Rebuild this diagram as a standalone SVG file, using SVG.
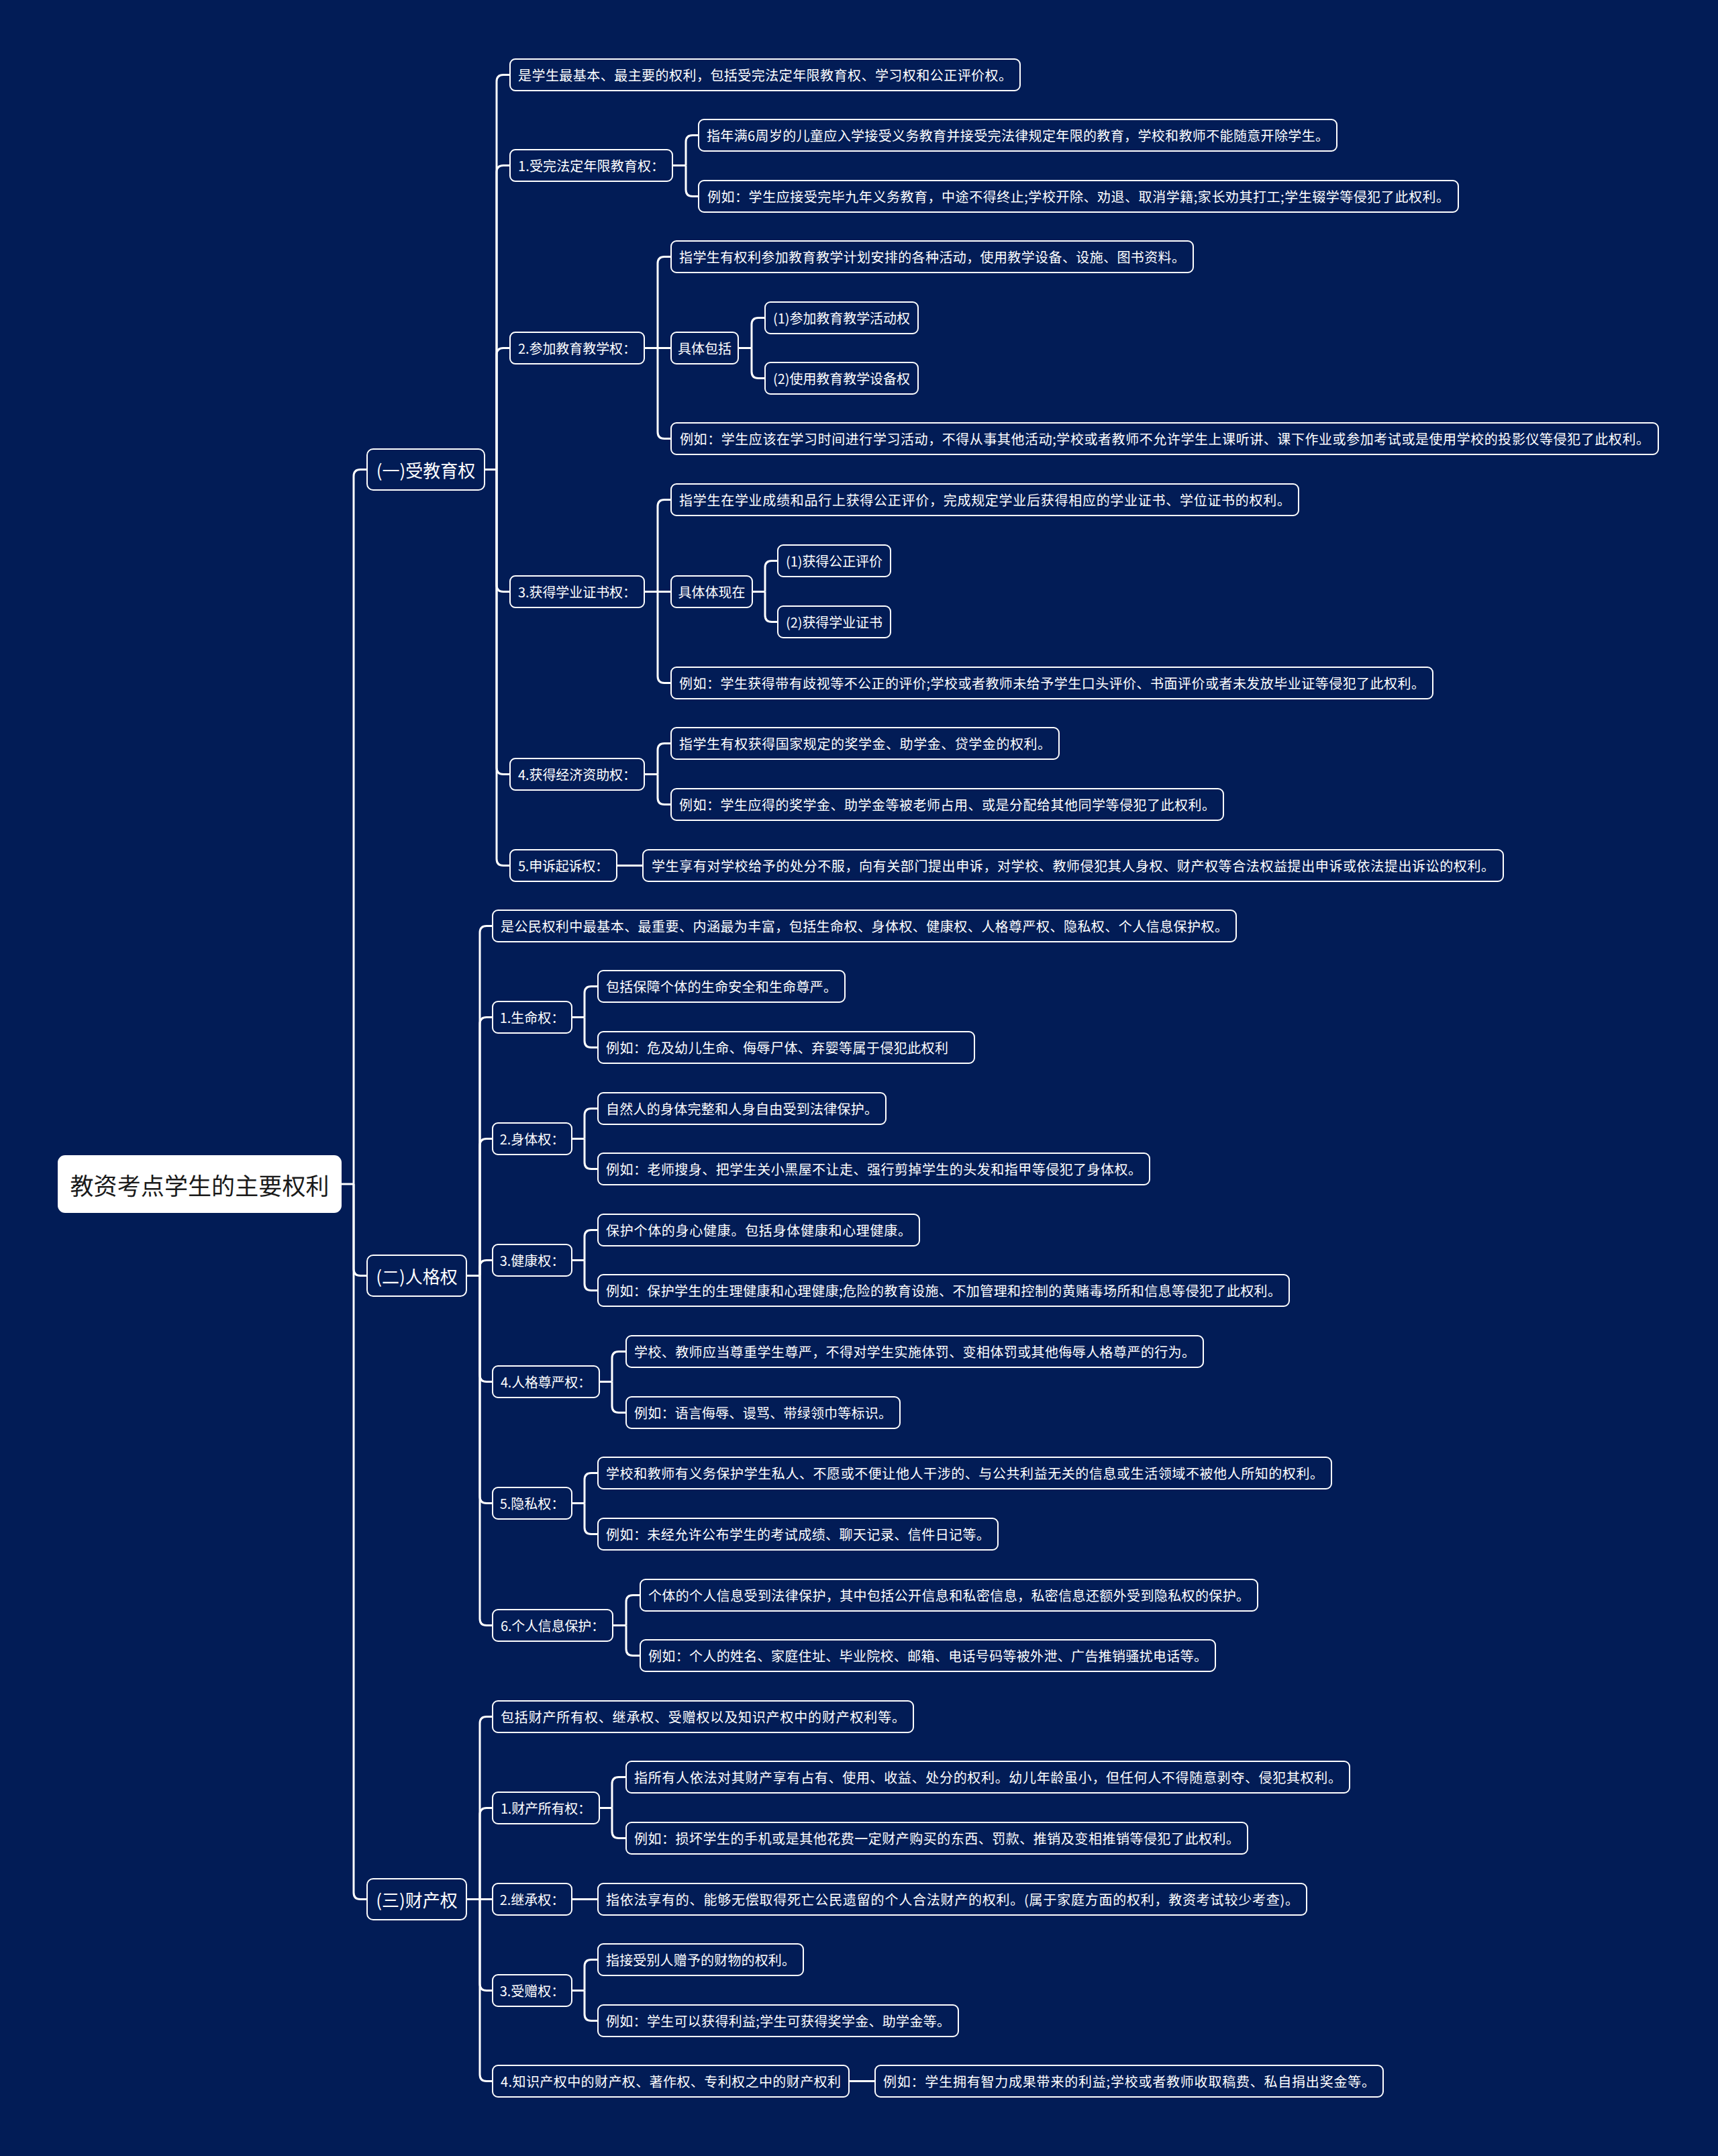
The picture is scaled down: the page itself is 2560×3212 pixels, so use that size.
<svg xmlns="http://www.w3.org/2000/svg" width="2560" height="3212" viewBox="0 0 2560 3212">
<style>
.bg{fill:#021c56}
.n rect{fill:#021c56;stroke:#ffffff;stroke-width:2}
.n text{fill:#ffffff;font-family:"Noto Sans CJK SC","Noto Sans",sans-serif;font-size:20px;dominant-baseline:central;text-anchor:middle}
.l1 text{font-size:26px}
.root rect{fill:#ffffff;stroke:#ffffff}
.root text{fill:#1a1a1a;font-size:35px}
.c path{fill:none;stroke:#ffffff;stroke-width:3;stroke-linejoin:round}
</style>
<rect class="bg" x="0" y="0" width="2560" height="3212"/>
<g class="c" id="connectors">
<path d="M508 1764 H527"/>
<path d="M527 1764 V709.5 Q527 699.5 537 699.5 H547"/>
<path d="M527 1764 V1890.5 Q527 1900.5 537 1900.5 H547"/>
<path d="M527 1764 V2819.5 Q527 2829.5 537 2829.5 H547"/>
<path d="M722 699.5 H740"/>
<path d="M740 699.5 V121.5 Q740 111.5 750 111.5 H760"/>
<path d="M740 699.5 V256.5 Q740 246.5 750 246.5 H760"/>
<path d="M740 699.5 V528.5 Q740 518.5 750 518.5 H760"/>
<path d="M740 699.5 V871.5 Q740 881.5 750 881.5 H760"/>
<path d="M740 699.5 V1143.5 Q740 1153.5 750 1153.5 H760"/>
<path d="M740 699.5 V1279.5 Q740 1289.5 750 1289.5 H760"/>
<path d="M1002 246.5 H1022"/>
<path d="M1022 246.5 V211.5 Q1022 201.5 1032 201.5 H1041"/>
<path d="M1022 246.5 V282.5 Q1022 292.5 1032 292.5 H1041"/>
<path d="M960 518.5 H1000"/>
<path d="M980 518.5 V392.5 Q980 382.5 990 382.5 H1000"/>
<path d="M980 518.5 V643.5 Q980 653.5 990 653.5 H1000"/>
<path d="M1100 518.5 H1120"/>
<path d="M1120 518.5 V483.5 Q1120 473.5 1130 473.5 H1140"/>
<path d="M1120 518.5 V553.5 Q1120 563.5 1130 563.5 H1140"/>
<path d="M960 881.5 H1000"/>
<path d="M980 881.5 V754.5 Q980 744.5 990 744.5 H1000"/>
<path d="M980 881.5 V1007.5 Q980 1017.5 990 1017.5 H1000"/>
<path d="M1121 881.5 H1140"/>
<path d="M1140 881.5 V845.5 Q1140 835.5 1150 835.5 H1159"/>
<path d="M1140 881.5 V916.5 Q1140 926.5 1150 926.5 H1159"/>
<path d="M960 1153.5 H980"/>
<path d="M980 1153.5 V1117.5 Q980 1107.5 990 1107.5 H1000"/>
<path d="M980 1153.5 V1188.5 Q980 1198.5 990 1198.5 H1000"/>
<path d="M919 1289.5 H958"/>
<path d="M695 1900.5 H715"/>
<path d="M715 1900.5 V1389.5 Q715 1379.5 725 1379.5 H734"/>
<path d="M715 1900.5 V1525.5 Q715 1515.5 725 1515.5 H734"/>
<path d="M715 1900.5 V1706.5 Q715 1696.5 725 1696.5 H734"/>
<path d="M715 1900.5 V1887.5 Q715 1877.5 725 1877.5 H734"/>
<path d="M715 1900.5 V2048.5 Q715 2058.5 725 2058.5 H734"/>
<path d="M715 1900.5 V2229.5 Q715 2239.5 725 2239.5 H734"/>
<path d="M715 1900.5 V2411.5 Q715 2421.5 725 2421.5 H734"/>
<path d="M852 1515.5 H871"/>
<path d="M871 1515.5 V1479.5 Q871 1469.5 881 1469.5 H891"/>
<path d="M871 1515.5 V1550.5 Q871 1560.5 881 1560.5 H891"/>
<path d="M852 1696.5 H871"/>
<path d="M871 1696.5 V1661.5 Q871 1651.5 881 1651.5 H891"/>
<path d="M871 1696.5 V1731.5 Q871 1741.5 881 1741.5 H891"/>
<path d="M852 1877.5 H871"/>
<path d="M871 1877.5 V1842.5 Q871 1832.5 881 1832.5 H891"/>
<path d="M871 1877.5 V1912.5 Q871 1922.5 881 1922.5 H891"/>
<path d="M893 2058.5 H912"/>
<path d="M912 2058.5 V2023.5 Q912 2013.5 922 2013.5 H933"/>
<path d="M912 2058.5 V2094.5 Q912 2104.5 922 2104.5 H933"/>
<path d="M852 2239.5 H871"/>
<path d="M871 2239.5 V2204.5 Q871 2194.5 881 2194.5 H891"/>
<path d="M871 2239.5 V2275.5 Q871 2285.5 881 2285.5 H891"/>
<path d="M913 2421.5 H933"/>
<path d="M933 2421.5 V2386.5 Q933 2376.5 943 2376.5 H954"/>
<path d="M933 2421.5 V2456.5 Q933 2466.5 943 2466.5 H954"/>
<path d="M695 2829.5 H734"/>
<path d="M715 2829.5 V2567.5 Q715 2557.5 725 2557.5 H734"/>
<path d="M715 2829.5 V2703.5 Q715 2693.5 725 2693.5 H734"/>
<path d="M715 2829.5 V2955.5 Q715 2965.5 725 2965.5 H734"/>
<path d="M715 2829.5 V3090.5 Q715 3100.5 725 3100.5 H734"/>
<path d="M893 2693.5 H912"/>
<path d="M912 2693.5 V2657.5 Q912 2647.5 922 2647.5 H933"/>
<path d="M912 2693.5 V2728.5 Q912 2738.5 922 2738.5 H933"/>
<path d="M852 2829.5 H891"/>
<path d="M852 2965.5 H871"/>
<path d="M871 2965.5 V2929.5 Q871 2919.5 881 2919.5 H891"/>
<path d="M871 2965.5 V3000.5 Q871 3010.5 881 3010.5 H891"/>
<path d="M1265 3100.5 H1304"/>
</g>
<g class="n root" id="root"><rect x="87" y="1722" width="421" height="84" rx="10"/><text x="297.5" y="1764" textLength="386" lengthAdjust="spacing">教资考点学生的主要权利</text></g>
<g class="n l1" id="n1"><rect x="547" y="669" width="175" height="61" rx="9"/><text x="634.5" y="699.5">(一)受教育权</text></g>
<g class="n l1" id="n2"><rect x="547" y="1870" width="148" height="61" rx="9"/><text x="621" y="1900.5">(二)人格权</text></g>
<g class="n l1" id="n3"><rect x="547" y="2799" width="148" height="61" rx="9"/><text x="621" y="2829.5">(三)财产权</text></g>

<g class="n" id="a1"><rect x="760" y="88" width="760" height="47" rx="8"/><text x="1140" y="111.5" textLength="736" lengthAdjust="spacing">是学生最基本、最主要的权利，包括受完法定年限教育权、学习权和公正评价权。</text></g>
<g class="n" id="a2"><rect x="760" y="223" width="242" height="47" rx="8"/><text x="881" y="246.5" textLength="218" lengthAdjust="spacing">1.受完法定年限教育权：</text></g>
<g class="n" id="a2a"><rect x="1041" y="178" width="951" height="47" rx="8"/><text x="1516.5" y="201.5" textLength="927" lengthAdjust="spacing">指年满6周岁的儿童应入学接受义务教育并接受完法律规定年限的教育，学校和教师不能随意开除学生。</text></g>
<g class="n" id="a2b"><rect x="1041" y="269" width="1132" height="47" rx="8"/><text x="1607" y="292.5" textLength="1106" lengthAdjust="spacing">例如：学生应接受完毕九年义务教育，中途不得终止;学校开除、劝退、取消学籍;家长劝其打工;学生辍学等侵犯了此权利。</text></g>
<g class="n" id="a3"><rect x="760" y="495" width="200" height="47" rx="8"/><text x="860" y="518.5" textLength="176" lengthAdjust="spacing">2.参加教育教学权：</text></g>
<g class="n" id="a3a"><rect x="1000" y="359" width="778" height="47" rx="8"/><text x="1389" y="382.5" textLength="754" lengthAdjust="spacing">指学生有权利参加教育教学计划安排的各种活动，使用教学设备、设施、图书资料。</text></g>
<g class="n" id="a3b"><rect x="1000" y="495" width="100" height="47" rx="8"/><text x="1050" y="518.5">具体包括</text></g>
<g class="n" id="a3b1"><rect x="1140" y="450" width="228" height="47" rx="8"/><text x="1254" y="473.5" textLength="204" lengthAdjust="spacing">(1)参加教育教学活动权</text></g>
<g class="n" id="a3b2"><rect x="1140" y="540" width="228" height="47" rx="8"/><text x="1254" y="563.5" textLength="204" lengthAdjust="spacing">(2)使用教育教学设备权</text></g>
<g class="n" id="a3c"><rect x="1000" y="630" width="1471" height="47" rx="8"/><text x="1735.5" y="653.5" textLength="1445" lengthAdjust="spacing">例如：学生应该在学习时间进行学习活动，不得从事其他活动;学校或者教师不允许学生上课听讲、课下作业或参加考试或是使用学校的投影仪等侵犯了此权利。</text></g>
<g class="n" id="a4"><rect x="760" y="858" width="200" height="47" rx="8"/><text x="860" y="881.5" textLength="176" lengthAdjust="spacing">3.获得学业证书权：</text></g>
<g class="n" id="a4a"><rect x="1000" y="721" width="935" height="47" rx="8"/><text x="1467.5" y="744.5" textLength="911" lengthAdjust="spacing">指学生在学业成绩和品行上获得公正评价，完成规定学业后获得相应的学业证书、学位证书的权利。</text></g>
<g class="n" id="a4b"><rect x="1000" y="858" width="121" height="47" rx="8"/><text x="1060.5" y="881.5">具体体现在</text></g>
<g class="n" id="a4b1"><rect x="1159" y="812" width="168" height="47" rx="8"/><text x="1243" y="835.5" textLength="144" lengthAdjust="spacing">(1)获得公正评价</text></g>
<g class="n" id="a4b2"><rect x="1159" y="903" width="168" height="47" rx="8"/><text x="1243" y="926.5" textLength="144" lengthAdjust="spacing">(2)获得学业证书</text></g>
<g class="n" id="a4c"><rect x="1000" y="994" width="1135" height="47" rx="8"/><text x="1567.5" y="1017.5" textLength="1111" lengthAdjust="spacing">例如：学生获得带有歧视等不公正的评价;学校或者教师未给予学生口头评价、书面评价或者未发放毕业证等侵犯了此权利。</text></g>
<g class="n" id="a5"><rect x="760" y="1130" width="200" height="47" rx="8"/><text x="860" y="1153.5" textLength="176" lengthAdjust="spacing">4.获得经济资助权：</text></g>
<g class="n" id="a5a"><rect x="1000" y="1084" width="578" height="47" rx="8"/><text x="1289" y="1107.5" textLength="554" lengthAdjust="spacing">指学生有权获得国家规定的奖学金、助学金、贷学金的权利。</text></g>
<g class="n" id="a5b"><rect x="1000" y="1175" width="823" height="47" rx="8"/><text x="1411.5" y="1198.5" textLength="799" lengthAdjust="spacing">例如：学生应得的奖学金、助学金等被老师占用、或是分配给其他同学等侵犯了此权利。</text></g>
<g class="n" id="a6"><rect x="760" y="1266" width="159" height="47" rx="8"/><text x="839.5" y="1289.5" textLength="135" lengthAdjust="spacing">5.申诉起诉权：</text></g>
<g class="n" id="a6a"><rect x="958" y="1266" width="1282" height="47" rx="8"/><text x="1599" y="1289.5" textLength="1256" lengthAdjust="spacing">学生享有对学校给予的处分不服，向有关部门提出申诉，对学校、教师侵犯其人身权、财产权等合法权益提出申诉或依法提出诉讼的权利。</text></g>

<g class="n" id="b1"><rect x="734" y="1356" width="1108" height="47" rx="8"/><text x="1288" y="1379.5" textLength="1084" lengthAdjust="spacing">是公民权利中最基本、最重要、内涵最为丰富，包括生命权、身体权、健康权、人格尊严权、隐私权、个人信息保护权。</text></g>
<g class="n" id="b2"><rect x="734" y="1492" width="118" height="47" rx="8"/><text x="793" y="1515.5">1.生命权：</text></g>
<g class="n" id="b2a"><rect x="891" y="1446" width="368" height="47" rx="8"/><text x="1075" y="1469.5" textLength="344" lengthAdjust="spacing">包括保障个体的生命安全和生命尊严。</text></g>
<g class="n" id="b2b"><rect x="891" y="1537" width="561" height="47" rx="8"/><text x="1158" y="1560.5" textLength="510" lengthAdjust="spacing">例如：危及幼儿生命、侮辱尸体、弃婴等属于侵犯此权利</text></g>
<g class="n" id="b3"><rect x="734" y="1673" width="118" height="47" rx="8"/><text x="793" y="1696.5">2.身体权：</text></g>
<g class="n" id="b3a"><rect x="891" y="1628" width="429" height="47" rx="8"/><text x="1105.5" y="1651.5" textLength="405" lengthAdjust="spacing">自然人的身体完整和人身自由受到法律保护。</text></g>
<g class="n" id="b3b"><rect x="891" y="1718" width="822" height="47" rx="8"/><text x="1302" y="1741.5" textLength="798" lengthAdjust="spacing">例如：老师搜身、把学生关小黑屋不让走、强行剪掉学生的头发和指甲等侵犯了身体权。</text></g>
<g class="n" id="b4"><rect x="734" y="1854" width="118" height="47" rx="8"/><text x="793" y="1877.5">3.健康权：</text></g>
<g class="n" id="b4a"><rect x="891" y="1809" width="479" height="47" rx="8"/><text x="1130.5" y="1832.5" textLength="455" lengthAdjust="spacing">保护个体的身心健康。包括身体健康和心理健康。</text></g>
<g class="n" id="b4b"><rect x="891" y="1899" width="1030" height="47" rx="8"/><text x="1406" y="1922.5" textLength="1006" lengthAdjust="spacing">例如：保护学生的生理健康和心理健康;危险的教育设施、不加管理和控制的黄赌毒场所和信息等侵犯了此权利。</text></g>
<g class="n" id="b5"><rect x="734" y="2035" width="159" height="47" rx="8"/><text x="813.5" y="2058.5" textLength="135" lengthAdjust="spacing">4.人格尊严权：</text></g>
<g class="n" id="b5a"><rect x="933" y="1990" width="860" height="47" rx="8"/><text x="1363" y="2013.5" textLength="836" lengthAdjust="spacing">学校、教师应当尊重学生尊严，不得对学生实施体罚、变相体罚或其他侮辱人格尊严的行为。</text></g>
<g class="n" id="b5b"><rect x="933" y="2081" width="408" height="47" rx="8"/><text x="1137" y="2104.5" textLength="384" lengthAdjust="spacing">例如：语言侮辱、谩骂、带绿领巾等标识。</text></g>
<g class="n" id="b6"><rect x="734" y="2216" width="118" height="47" rx="8"/><text x="793" y="2239.5">5.隐私权：</text></g>
<g class="n" id="b6a"><rect x="891" y="2171" width="1093" height="47" rx="8"/><text x="1437.5" y="2194.5" textLength="1069" lengthAdjust="spacing">学校和教师有义务保护学生私人、不愿或不便让他人干涉的、与公共利益无关的信息或生活领域不被他人所知的权利。</text></g>
<g class="n" id="b6b"><rect x="891" y="2262" width="596" height="47" rx="8"/><text x="1189" y="2285.5" textLength="572" lengthAdjust="spacing">例如：未经允许公布学生的考试成绩、聊天记录、信件日记等。</text></g>
<g class="n" id="b7"><rect x="734" y="2398" width="179" height="47" rx="8"/><text x="823.5" y="2421.5" textLength="155" lengthAdjust="spacing">6.个人信息保护：</text></g>
<g class="n" id="b7a"><rect x="954" y="2353" width="920" height="47" rx="8"/><text x="1414" y="2376.5" textLength="896" lengthAdjust="spacing">个体的个人信息受到法律保护，其中包括公开信息和私密信息，私密信息还额外受到隐私权的保护。</text></g>
<g class="n" id="b7b"><rect x="954" y="2443" width="857" height="47" rx="8"/><text x="1382.5" y="2466.5" textLength="833" lengthAdjust="spacing">例如：个人的姓名、家庭住址、毕业院校、邮箱、电话号码等被外泄、广告推销骚扰电话等。</text></g>

<g class="n" id="c1"><rect x="734" y="2534" width="627" height="47" rx="8"/><text x="1047.5" y="2557.5" textLength="603" lengthAdjust="spacing">包括财产所有权、继承权、受赠权以及知识产权中的财产权利等。</text></g>
<g class="n" id="c2"><rect x="734" y="2670" width="159" height="47" rx="8"/><text x="813.5" y="2693.5" textLength="135" lengthAdjust="spacing">1.财产所有权：</text></g>
<g class="n" id="c2a"><rect x="933" y="2624" width="1078" height="47" rx="8"/><text x="1472" y="2647.5" textLength="1054" lengthAdjust="spacing">指所有人依法对其财产享有占有、使用、收益、处分的权利。幼儿年龄虽小，但任何人不得随意剥夺、侵犯其权利。</text></g>
<g class="n" id="c2b"><rect x="933" y="2715" width="926" height="47" rx="8"/><text x="1396" y="2738.5" textLength="902" lengthAdjust="spacing">例如：损坏学生的手机或是其他花费一定财产购买的东西、罚款、推销及变相推销等侵犯了此权利。</text></g>
<g class="n" id="c3"><rect x="734" y="2806" width="118" height="47" rx="8"/><text x="793" y="2829.5">2.继承权：</text></g>
<g class="n" id="c3a"><rect x="891" y="2806" width="1056" height="47" rx="8"/><text x="1419" y="2829.5" textLength="1032" lengthAdjust="spacing">指依法享有的、能够无偿取得死亡公民遗留的个人合法财产的权利。(属于家庭方面的权利，教资考试较少考查)。</text></g>
<g class="n" id="c4"><rect x="734" y="2942" width="118" height="47" rx="8"/><text x="793" y="2965.5">3.受赠权：</text></g>
<g class="n" id="c4a"><rect x="891" y="2896" width="306" height="47" rx="8"/><text x="1044" y="2919.5" textLength="282" lengthAdjust="spacing">指接受别人赠予的财物的权利。</text></g>
<g class="n" id="c4b"><rect x="891" y="2987" width="537" height="47" rx="8"/><text x="1159.5" y="3010.5" textLength="513" lengthAdjust="spacing">例如：学生可以获得利益;学生可获得奖学金、助学金等。</text></g>
<g class="n" id="c5"><rect x="734" y="3077" width="531" height="47" rx="8"/><text x="999.5" y="3100.5" textLength="507" lengthAdjust="spacing">4.知识产权中的财产权、著作权、专利权之中的财产权利</text></g>
<g class="n" id="c5a"><rect x="1304" y="3077" width="757" height="47" rx="8"/><text x="1682.5" y="3100.5" textLength="733" lengthAdjust="spacing">例如：学生拥有智力成果带来的利益;学校或者教师收取稿费、私自捐出奖金等。</text></g>
</svg>
